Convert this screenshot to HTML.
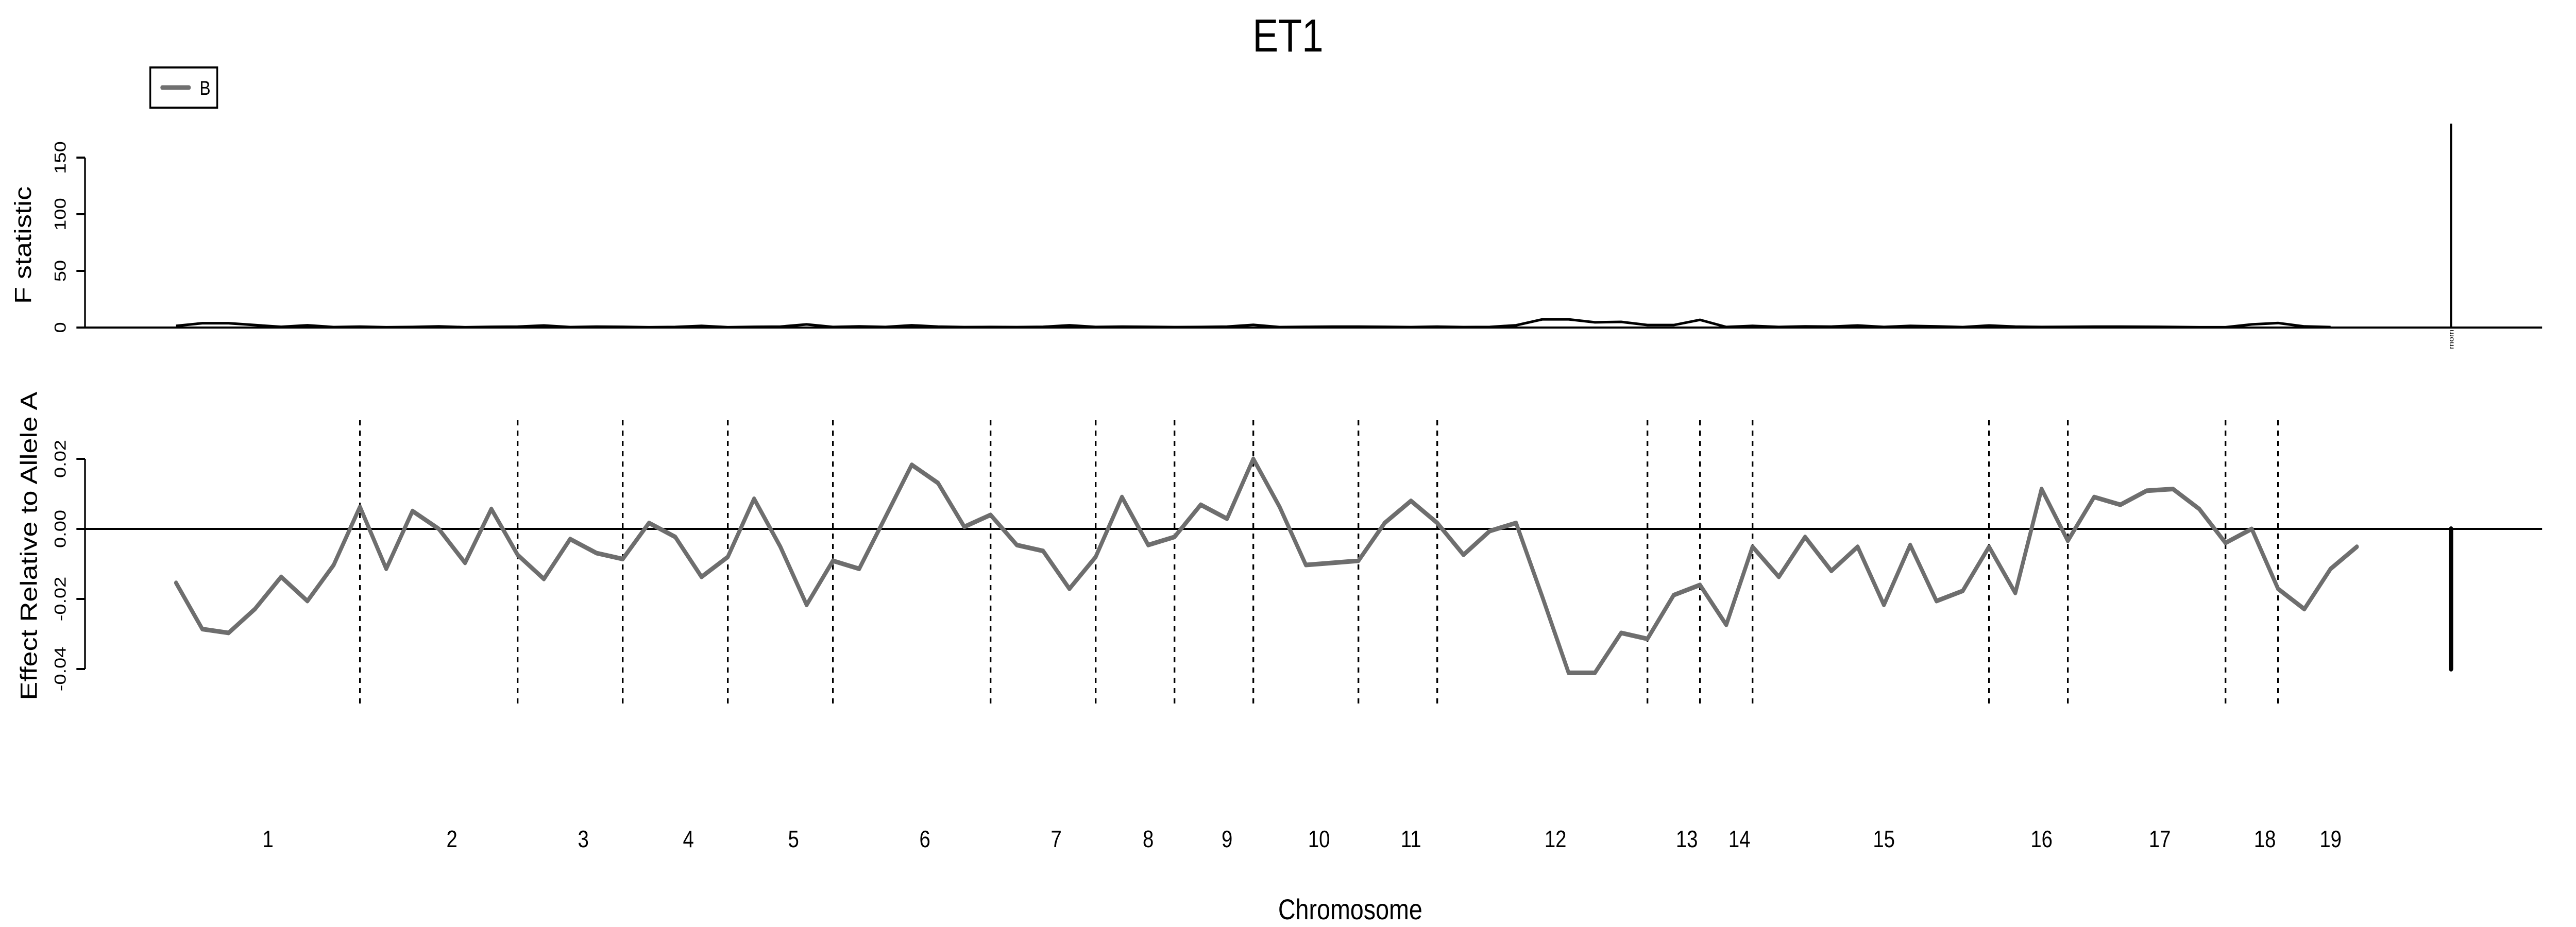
<!DOCTYPE html>
<html><head><meta charset="utf-8">
<style>
html,body{margin:0;padding:0;background:#fff;overflow:hidden;width:100%;height:100%;}
svg{display:block;font-family:"Liberation Sans",Arial,sans-serif;width:100vw;height:100vh;}
</style></head>
<body>
<svg id="chart" viewBox="0 0 6000 1800" preserveAspectRatio="none" xmlns="http://www.w3.org/2000/svg">
<text x="3000" y="100" font-size="90" text-anchor="middle">ET1</text>
<g>
<rect x="350" y="131" width="156" height="78" fill="#fff" stroke="#000" stroke-width="4"/>
<line x1="378" y1="170" x2="440" y2="170" stroke="#707070" stroke-width="9" stroke-linecap="round"/>
<text x="465" y="184" font-size="38" font-family="Liberation Sans Narrow, Liberation Sans, sans-serif">B</text>
</g>
<text transform="translate(72,476) rotate(-90)" font-size="54" text-anchor="middle">F statistic</text>
<text transform="translate(86,1060) rotate(-90)" font-size="54" text-anchor="middle">Effect Relative to Allele A</text>
<text x="3145" y="1785" font-size="56" text-anchor="middle">Chromosome</text>
<g id="topg"></g>
<g id="botg"></g>
<g id="xlg"></g>
</svg>
<script>
const chromosomes = ["1","2","3","4","5","6","7","8","9","10","11","12","13","14","15","16","17","18","19"];
const pointsPerChrom = [8,6,4,4,4,6,4,3,3,4,3,8,2,2,9,3,6,2,3];
const effectValues = [
-0.0154,-0.0286,-0.0297,-0.0229,-0.0137,-0.0206,-0.0103,0.0063,
-0.0114,0.0051,0.0000,-0.0097,0.0057,-0.0074,
-0.0143,-0.0029,-0.0069,-0.0086,
0.0017,-0.0023,-0.0137,-0.0080,
0.0086,-0.0051,-0.0217,-0.0091,
-0.0114,0.0034,0.0183,0.0131,0.0006,0.0040,
-0.0046,-0.0063,-0.0171,-0.0080,
0.0091,-0.0046,-0.0023,
0.0069,0.0029,0.0200,
0.0063,-0.0103,-0.0097,-0.0091,
0.0017,0.0080,0.0017,
-0.0074,-0.0006,0.0017,-0.0194,-0.0411,-0.0411,-0.0297,-0.0314,
-0.0189,-0.0160,
-0.0274,-0.0051,
-0.0137,-0.0023,-0.0120,-0.0051,-0.0217,-0.0046,-0.0206,-0.0177,-0.0051,
-0.0183,0.0114,-0.0034,
0.0091,0.0069,0.0109,0.0114,0.0057,-0.0040,
0.0000,-0.0171,
-0.0229,-0.0114,-0.0051];
const fValues = [
1.5,3.8,3.8,2.2,0.6,2.0,0.4,0.8,
0.3,0.5,1.0,0.3,0.6,0.8,
1.8,0.4,0.8,0.6,
0.3,0.5,1.5,0.3,
0.6,0.8,2.8,0.5,
1.0,0.5,2.0,0.8,0.4,0.5,
0.4,0.6,2.0,0.5,
0.8,0.6,0.4,
0.5,0.8,2.4,
0.4,0.6,0.8,0.8,
0.6,0.4,0.8,
0.4,0.5,2.0,7.2,7.2,4.6,5.0,
2.2,2.2,
6.8,0.5,
1.5,0.5,1.0,0.8,1.8,0.5,1.5,1.0,0.4,
1.8,0.8,0.5,
0.6,0.8,0.8,0.7,0.5,0.3,
0.3,2.8,
4.0,1.0,0.4];
const fTicks = [0,50,100,150];
const effTicks = [-0.04,-0.02,0.00,0.02];
const effTickLabels = ["-0.04","-0.02","0.00","0.02"];
const momF = 180;
const momEffect = -0.04;

const NS="http://www.w3.org/2000/svg";
const X0=410, STEP=61.2, AXL=190, AXR=5921;
const xPos = i => X0 + i*STEP;
const yF = v => 636 - v*(330/150);
const yE = v => 1027 - v*(136/0.02);
const MOMX = 5709;
function mk(parent,tag,attrs){const e=document.createElementNS(NS,tag);for(const k in attrs)e.setAttribute(k,attrs[k]);parent.appendChild(e);return e;}
const topG=document.getElementById('topg'), botG=document.getElementById('botg'), xlG=document.getElementById('xlg');

let e=mk(topG,'line',{x1:198,y1:yF(0),x2:198,y2:yF(150),stroke:'#000','stroke-width':4});


fTicks.forEach(t=>{
  let tk=mk(topG,'line',{x1:178,y1:yF(t),x2:198,y2:yF(t),stroke:'#000','stroke-width':4});
  
  
  let tl=mk(topG,'text',{transform:`translate(153,${yF(t)}) rotate(-90)`,'font-size':38,'text-anchor':'middle'});
  tl.textContent=String(t);
  
  
});
e=mk(topG,'line',{x1:AXL,y1:yF(0),x2:AXR,y2:yF(0),stroke:'#000','stroke-width':4});


let fp=fValues.map((v,i)=>xPos(i)+','+yF(v)).join(' ');
e=mk(topG,'polyline',{points:fp,fill:'none',stroke:'#000','stroke-width':5,'stroke-linejoin':'miter'});


e=mk(topG,'line',{x1:MOMX,y1:yF(0),x2:MOMX,y2:yF(momF),stroke:'#000','stroke-width':5});


e=mk(topG,'text',{transform:`translate(${MOMX+6},${yF(0)+4}) rotate(-90)`,'font-size':17,'text-anchor':'end'});
e.textContent='mom';



e=mk(botG,'line',{x1:198,y1:yE(0.02),x2:198,y2:yE(-0.04),stroke:'#000','stroke-width':4});


effTicks.forEach((t,i)=>{
  let tk=mk(botG,'line',{x1:178,y1:yE(t),x2:198,y2:yE(t),stroke:'#000','stroke-width':4});
  
  
  let tl=mk(botG,'text',{transform:`translate(153,${yE(t)}) rotate(-90)`,'font-size':38,'text-anchor':'middle'});
  tl.textContent=effTickLabels[i];
  
  
});
e=mk(botG,'line',{x1:AXL,y1:yE(0),x2:AXR,y2:yE(0),stroke:'#000','stroke-width':4});


let idx=0;
pointsPerChrom.forEach((n,c)=>{
  const first=idx, last=idx+n-1;
  if(c<pointsPerChrom.length-1){
    let d=mk(botG,'line',{x1:xPos(last),y1:816,x2:xPos(last),y2:1372,stroke:'#000','stroke-width':4,'stroke-dasharray':'10 10'});
    
    
  }
  let lb=mk(xlG,'text',{x:(xPos(first)+xPos(last))/2,y:1645,'font-size':46,'text-anchor':'middle'});
  lb.textContent=chromosomes[c];
  
  
  idx+=n;
});
let ep=effectValues.map((v,i)=>xPos(i)+','+yE(v)).join(' ');
e=mk(botG,'polyline',{points:ep,fill:'none',stroke:'#6e6e6e','stroke-width':9,'stroke-linejoin':'round','stroke-linecap':'round'});


e=mk(botG,'line',{x1:MOMX,y1:yE(0),x2:MOMX,y2:yE(momEffect),stroke:'#000','stroke-width':10,'stroke-linecap':'round'});


</script>
</body></html>
